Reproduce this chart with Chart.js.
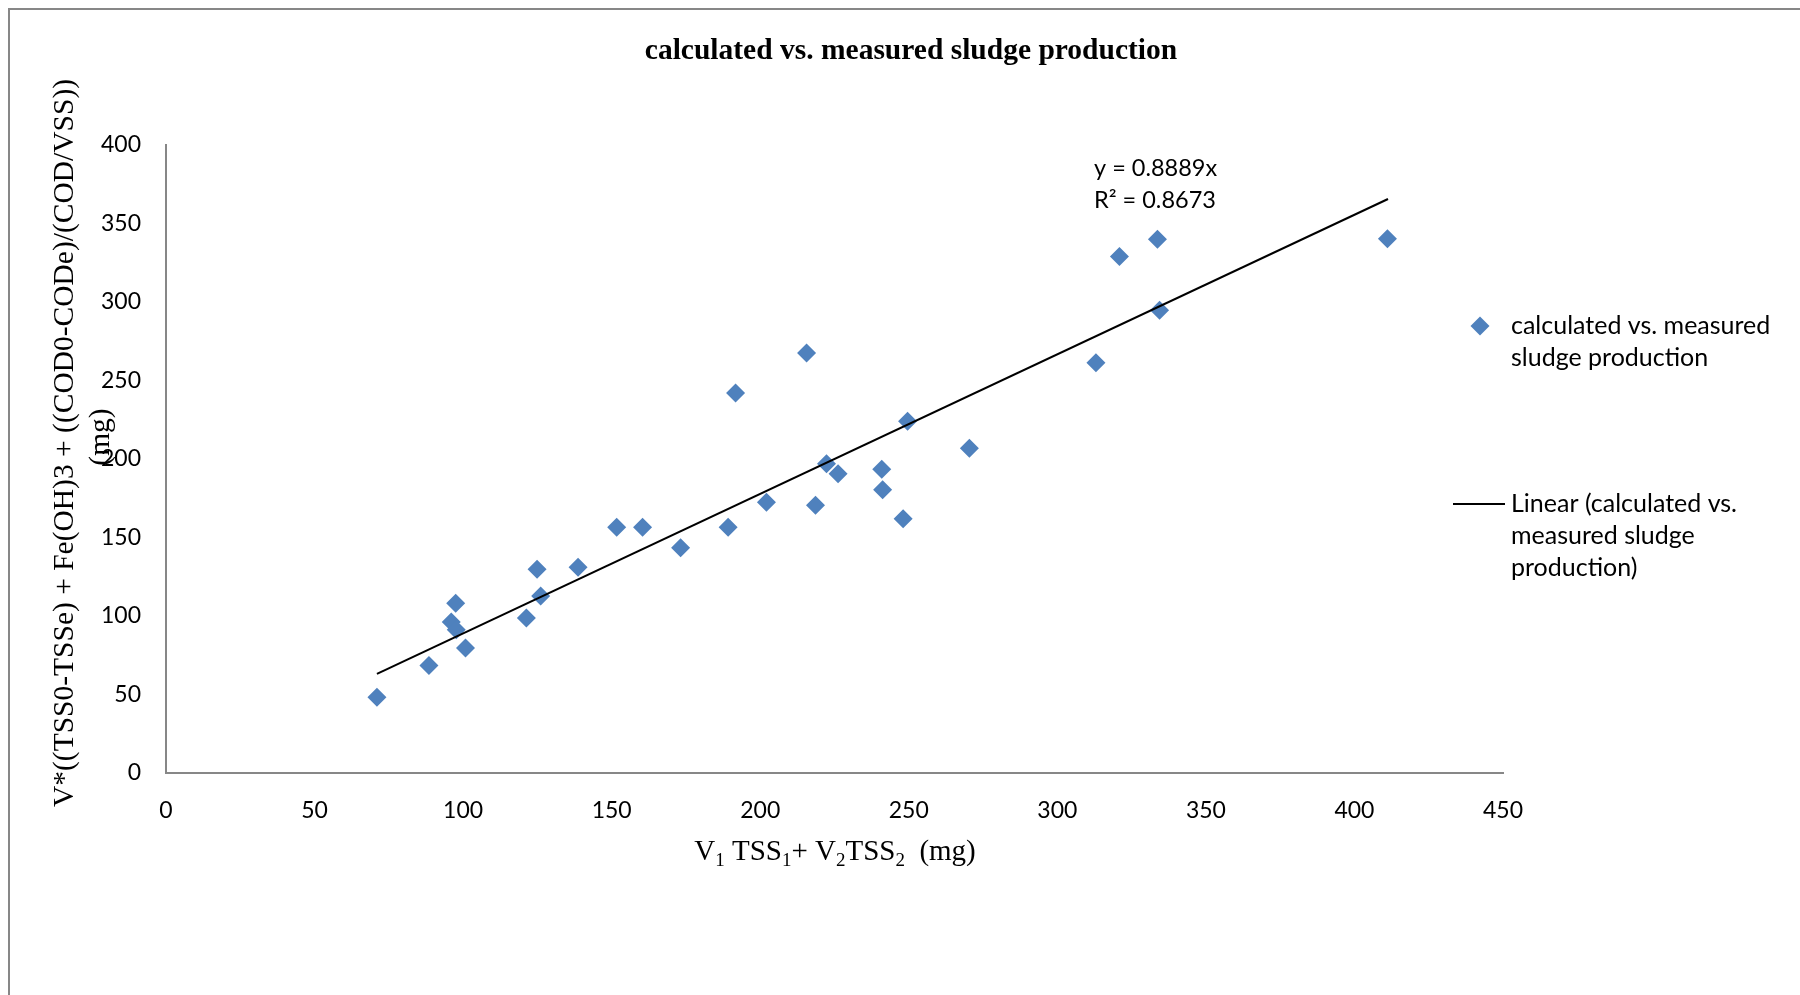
<!DOCTYPE html>
<html>
<head>
<meta charset="utf-8">
<script src="https://cdn.jsdelivr.net/npm/chart.js@4.4.0/dist/chart.umd.min.js"></script>
<style>
    body { margin: 0; background: #ffffff; }
    canvas { display: block; }
</style>
</head>
<body>
<canvas id="chart" width="1800" height="995"></canvas>
<script>
// Data
const calc_x = [71.0, 88.5, 96.0, 97.7, 97.5, 100.8, 121.3, 124.9, 126.1, 138.7,
                151.7, 160.4, 173.2, 189.2, 191.7, 202.1, 215.6, 218.6, 222.3, 226.2,
                240.9, 241.2, 248.1, 249.6, 270.4, 313.0, 320.9, 333.7, 334.4, 411.1];
const meas_y = [48.3, 68.5, 96.1, 91.3, 108.2, 79.6, 98.7, 129.7, 112.7, 131.0,
                156.6, 156.6, 143.5, 156.6, 242.0, 172.4, 267.5, 170.6, 197.0, 190.6,
                193.4, 180.4, 162.0, 224.1, 206.9, 261.3, 329.0, 339.9, 294.7, 340.3];
const trend_x = [71.0, 411.3];
const trend_y = [63.1, 365.6];

const x_ticks = [0, 50, 100, 150, 200, 250, 300, 350, 400, 450];
const y_ticks = [0, 50, 100, 150, 200, 250, 300, 350, 400];

const chart_title = 'calculated vs. measured sludge production';
const y_title = ['V*((TSS0-TSSe) + Fe(OH)3 + ((COD0-CODe)/(COD/VSS))', '(mg)'];
const x_title = [['V', 0], ['1', 1], [' TSS', 0], ['1', 1], ['+ V', 0], ['2', 1], ['TSS', 0], ['2', 1], ['  (mg)', 0]];
const equation = ['y = 0.8889x', 'R\u00B2 = 0.8673'];
const legend_scatter = ['calculated vs. measured', 'sludge production'];
const legend_trend = ['Linear (calculated vs.', 'measured sludge', 'production)'];

const blue = '#4F81BD';
const sans = 'Lato';
const serif = '"Liberation Serif", "Times New Roman", serif';

// Frame, titles, equation and legend
const decor = {
    id: 'decor',
    afterDraw(chart) {
        const ctx = chart.ctx;
        ctx.save();

        ctx.strokeStyle = '#878787';
        ctx.lineWidth = 2;
        ctx.beginPath();
        ctx.moveTo(9, 995);
        ctx.lineTo(9, 9);
        ctx.lineTo(1800, 9);
        ctx.stroke();

        ctx.fillStyle = '#000000';
        ctx.textBaseline = 'middle';
        ctx.textAlign = 'center';
        ctx.font = 'bold 29.5px ' + serif;
        ctx.fillText(chart_title, 911, 51.5);

        // y title, rotated
        ctx.save();
        ctx.font = '29.5px ' + serif;
        ctx.translate(65, 443);
        ctx.rotate(-Math.PI / 2);
        ctx.fillText(y_title[0], 0, 0);
        ctx.fillText(y_title[1], 6, 36);
        ctx.restore();

        // x title with subscripts
        const big = '29px ' + serif;
        const small = '19px ' + serif;
        let total = 0;
        x_title.forEach(p => { ctx.font = p[1] ? small : big; total += ctx.measureText(p[0]).width; });
        let px = 835 - total / 2;
        ctx.textAlign = 'left';
        ctx.textBaseline = 'alphabetic';
        x_title.forEach(p => {
            ctx.font = p[1] ? small : big;
            ctx.fillText(p[0], px, p[1] ? 866 : 860);
            px += ctx.measureText(p[0]).width;
        });

        ctx.textBaseline = 'middle';
        ctx.font = '23.5px ' + sans;
        ctx.fillText(equation[0], 1094, 168);
        ctx.fillText(equation[1], 1094, 200);

        // legend
        ctx.fillStyle = blue;
        ctx.beginPath();
        ctx.moveTo(1470.5, 326);
        ctx.lineTo(1480, 316.5);
        ctx.lineTo(1489.5, 326);
        ctx.lineTo(1480, 335.5);
        ctx.closePath();
        ctx.fill();
        ctx.strokeStyle = '#000000';
        ctx.lineWidth = 2;
        ctx.beginPath();
        ctx.moveTo(1453, 504);
        ctx.lineTo(1505, 504);
        ctx.stroke();

        ctx.fillStyle = '#000000';
        ctx.font = '25px ' + sans;
        legend_scatter.forEach((t, i) => ctx.fillText(t, 1511, 326 + i * 31.5));
        legend_trend.forEach((t, i) => ctx.fillText(t, 1511, 504 + i * 32));

        ctx.restore();
    }
};

const options = {
    responsive: false,
    animation: false,
    layout: { padding: { left: 0, top: 145, right: 297, bottom: 0 } },
    plugins: { legend: { display: false }, tooltip: { enabled: false } },
    scales: {
        x: {
            type: 'linear',
            min: x_ticks[0],
            max: x_ticks[x_ticks.length - 1],
            afterBuildTicks: (scale) => { scale.ticks = x_ticks.map(v => ({ value: v })); },
            afterFit: (scale) => { scale.height = 222; },
            grid: { display: false, drawTicks: false },
            border: { display: true, color: '#878787', width: 2 },
            ticks: { padding: 24, color: '#000000', font: { family: sans, size: 23 } }
        },
        y: {
            type: 'linear',
            min: y_ticks[0],
            max: y_ticks[y_ticks.length - 1],
            afterBuildTicks: (scale) => { scale.ticks = y_ticks.map(v => ({ value: v })); },
            afterFit: (scale) => { scale.width = 166; },
            grid: { display: false, drawTicks: false },
            border: { display: true, color: '#878787', width: 2 },
            ticks: { padding: 25, color: '#000000', font: { family: sans, size: 23 } }
        }
    }
};

const data = {
    datasets: [
        {
            type: 'scatter',
            label: 'calculated vs. measured sludge production',
            data: calc_x.map((x, i) => ({ x: x, y: meas_y[i] })),
            pointStyle: 'rectRot',
            pointRadius: 9.5,
            pointBorderWidth: 0,
            backgroundColor: blue,
            borderColor: blue,
            order: 1
        },
        {
            type: 'line',
            label: 'Linear (calculated vs. measured sludge production)',
            data: trend_x.map((x, i) => ({ x: x, y: trend_y[i] })),
            borderColor: '#000000',
            borderWidth: 2,
            pointRadius: 0,
            fill: false,
            order: 0
        }
    ]
};

new Chart(document.getElementById('chart'), {
    type: 'scatter',
    data: data,
    options: options,
    plugins: [decor]
});
</script>
</body>
</html>
